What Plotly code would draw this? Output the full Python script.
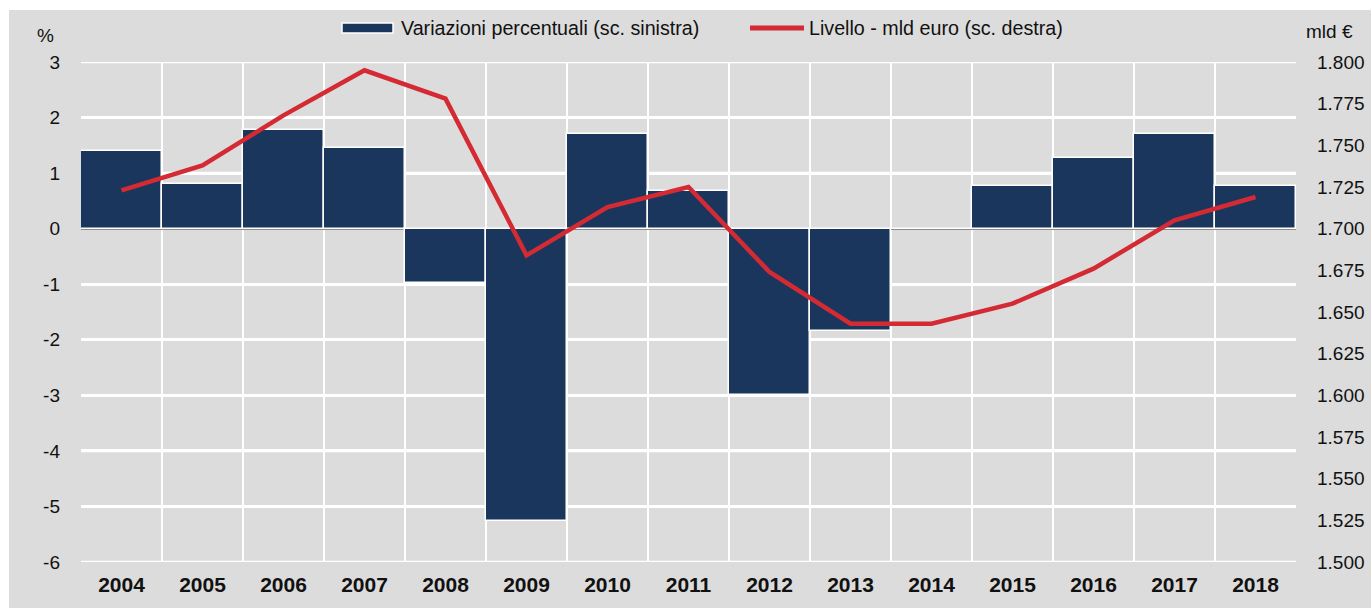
import plotly.graph_objects as go

years = ["2004", "2005", "2006", "2007", "2008", "2009", "2010", "2011",
         "2012", "2013", "2014", "2015", "2016", "2017", "2018"]
var_pct = [1.39, 0.80, 1.77, 1.46, -0.97, -5.27, 1.71, 0.68,
           -2.99, -1.84, 0.0, 0.77, 1.27, 1.71, 0.77]
livello = [1.723, 1.738, 1.768, 1.795, 1.778, 1.684, 1.713, 1.725,
           1.674, 1.643, 1.643, 1.655, 1.676, 1.705, 1.719]
left_ticks = [3, 2, 1, 0, -1, -2, -3, -4, -5, -6]
left_labels = ["3", "2", "1", "0", "-1", "-2", "-3", "-4", "-5", "-6"]
right_ticks = [1.500, 1.525, 1.550, 1.575, 1.600, 1.625, 1.650, 1.675, 1.700, 1.725, 1.750, 1.775, 1.800]
right_labels = ["1.500", "1.525", "1.550", "1.575", "1.600", "1.625", "1.650",
                "1.675", "1.700", "1.725", "1.750", "1.775", "1.800"]
bar_name = "Variazioni percentuali (sc. sinistra)"
line_name = "Livello - mld euro (sc. destra)"

BG = "#dcdcdc"
NAVY = "#1a365d"
RED = "#d42a34"
FONT = "Liberation Sans, Arial, sans-serif"

# pixel -> paper helpers (plot area: x 81..1296, y 62..562)
L, R, T, B = 81, 1296, 62, 562
def px(x):
    return (x - L) / (R - L)
def py(y):
    return (B - y) / (B - T)

fig = go.Figure()
fig.add_trace(go.Bar(
    x=years, y=var_pct, name=bar_name,
    marker=dict(color=NAVY, line=dict(color="white", width=1.5)),
    yaxis="y", showlegend=False,
))
fig.add_trace(go.Scatter(
    x=years, y=livello, name=line_name,
    mode="lines", line=dict(color=RED, width=4.5),
    yaxis="y2", showlegend=False,
))

shapes = [
    # white strips outside the gray panel
    dict(type="rect", xref="paper", yref="paper", x0=px(0), x1=px(9), y0=py(610), y1=py(0),
         fillcolor="white", line=dict(width=0), layer="below"),
    dict(type="rect", xref="paper", yref="paper", x0=px(0), x1=px(1371), y0=py(10), y1=py(0),
         fillcolor="white", line=dict(width=0), layer="below"),
    # legend symbols
    dict(type="rect", xref="paper", yref="paper", x0=px(342), x1=px(393), y0=py(33), y1=py(23),
         fillcolor=NAVY, line=dict(color="white", width=1.5)),
    dict(type="line", xref="paper", yref="paper", x0=px(750), x1=px(804), y0=py(28), y1=py(28),
         line=dict(color=RED, width=5)),
]
# horizontal gridlines at the left-axis ticks, behind the bars
for v in left_ticks:
    if v == 0:
        continue
    shapes.append(dict(type="line", xref="paper", yref="y", x0=0, x1=1, y0=v, y1=v,
                       line=dict(color="#ffffff", width=2.5), layer="below"))

fig.update_layout(
    width=1371, height=608,
    margin=dict(l=L, r=1371 - R, t=T, b=608 - B, autoexpand=False),
    paper_bgcolor=BG,
    plot_bgcolor="rgba(0,0,0,0)",
    font=dict(family=FONT, size=19, color="#111111"),
    bargap=0,
    showlegend=False,
    xaxis=dict(
        type="category", tickson="boundaries", showgrid=True, gridcolor="white", gridwidth=2,
        ticks="", tickfont=dict(size=21, family=FONT, weight="bold"),
        ticklabelstandoff=8, showline=False, zeroline=False, automargin=False,
    ),
    yaxis=dict(
        range=[-6, 3], tickvals=left_ticks, ticktext=left_labels,
        showgrid=True, gridcolor="#ffffff", gridwidth=2.5,
        zeroline=True, zerolinecolor="#8c8c8c", zerolinewidth=2,
        ticks="", ticklabelstandoff=20, tickfont=dict(size=19),
        showline=False, automargin=False,
    ),
    yaxis2=dict(
        range=[1.5, 1.8], overlaying="y", side="right", tickvals=right_ticks,
        ticktext=right_labels, showgrid=False, zeroline=False, ticks="",
        ticklabelstandoff=20, tickfont=dict(size=19), automargin=False,
    ),
    shapes=shapes,
    annotations=[
        dict(text=bar_name, xref="paper", yref="paper", x=px(399), y=py(28),
             showarrow=False, font=dict(size=19.7), xanchor="left", yanchor="middle"),
        dict(text=line_name, xref="paper", yref="paper", x=px(807), y=py(28),
             showarrow=False, font=dict(size=19.7), xanchor="left", yanchor="middle"),
        dict(text="%", xref="paper", yref="paper", x=px(45), y=py(36),
             showarrow=False, font=dict(size=19), xanchor="center", yanchor="middle"),
        dict(text="mld €", xref="paper", yref="paper", x=px(1329), y=py(32),
             showarrow=False, font=dict(size=19), xanchor="center", yanchor="middle"),
    ],
)

fig.write_html("out.html")
